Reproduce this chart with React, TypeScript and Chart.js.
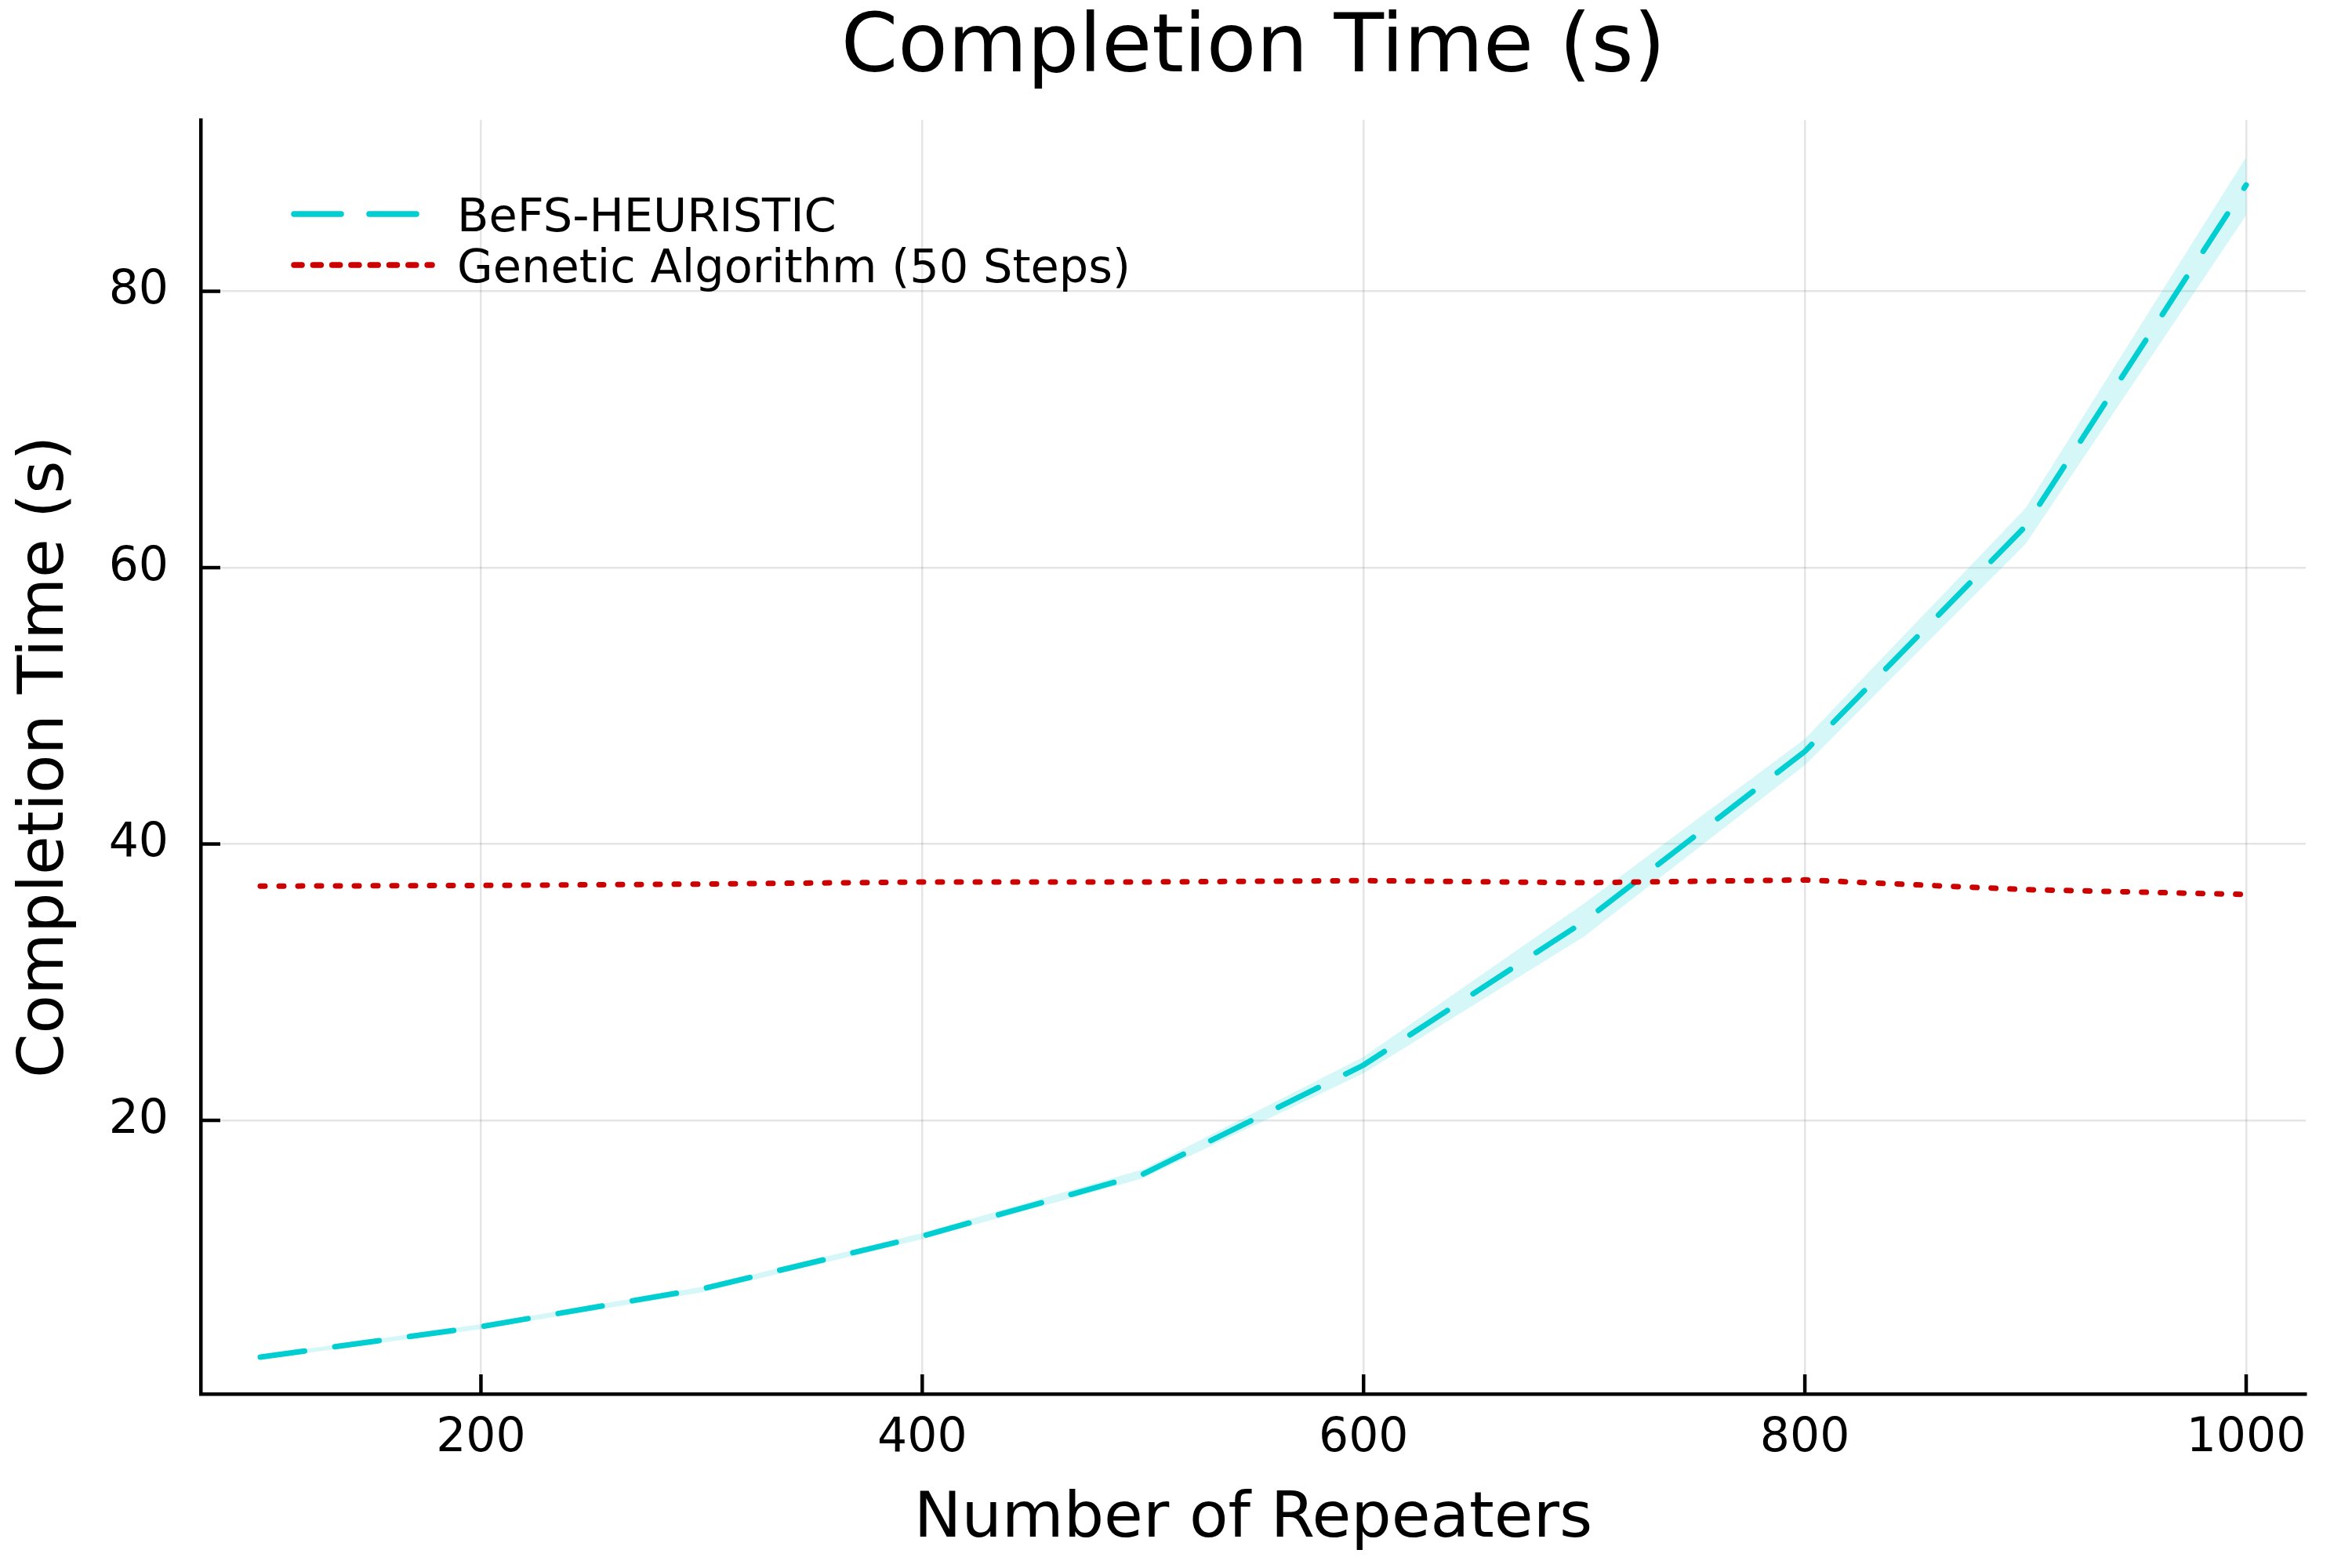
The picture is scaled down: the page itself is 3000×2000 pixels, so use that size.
import React, { useEffect, useRef } from "react";
import { Chart, registerables } from "chart.js";

Chart.register(...registerables);

const repeaters = [100, 200, 300, 400, 500, 600, 700, 800, 900, 1000];
const befsMean = [2.87, 5.07, 7.8, 11.62, 16.1, 24.0, 34.4, 46.7, 63.0, 87.7];
const befsLower = [2.7, 4.9, 7.55, 11.4, 15.8, 23.4, 33.3, 45.7, 61.7, 85.5];
const befsUpper = [3.0, 5.25, 7.95, 11.85, 16.45, 24.6, 35.7, 47.6, 64.3, 89.7];
const gaMean = [36.95, 37.0, 37.1, 37.25, 37.25, 37.35, 37.2, 37.4, 36.7, 36.35];

const xTicks = [200, 400, 600, 800, 1000];
const yTicks = [20, 40, 60, 80];

const seriesNames = ["BeFS-HEURISTIC", "Genetic Algorithm (50 Steps)"];
const titleText = "Completion Time (s)";
const xTitle = "Number of Repeaters";
const yTitle = "Completion Time (s)";

const FONT = '"DejaVu Sans", sans-serif';
const CYAN = "#00CED1";
const RED = "#CD0000";

const toPts = (ys: number[]) => repeaters.map((x, i) => ({ x, y: ys[i] }));

const inwardTicks = {
  id: "inwardTicks",
  afterDatasetsDraw(chart: any) {
    const { ctx, chartArea, scales } = chart;
    ctx.save();
    ctx.strokeStyle = "#000";
    ctx.lineWidth = 4.5;
    ctx.setLineDash([]);
    for (const v of xTicks) {
      const px = scales.x.getPixelForValue(v);
      ctx.beginPath();
      ctx.moveTo(px, chartArea.bottom);
      ctx.lineTo(px, chartArea.bottom - 25);
      ctx.stroke();
    }
    for (const v of yTicks) {
      const py = scales.y.getPixelForValue(v);
      ctx.beginPath();
      ctx.moveTo(chartArea.left, py);
      ctx.lineTo(chartArea.left + 25, py);
      ctx.stroke();
    }
    ctx.restore();
  },
};

const titles = {
  id: "titles",
  afterDraw(chart: any) {
    const { ctx, chartArea, height } = chart;
    const cx = (chartArea.left + chartArea.right) / 2;
    const cy = (chartArea.top + chartArea.bottom) / 2;
    ctx.save();
    ctx.fillStyle = "#000";
    ctx.textAlign = "center";
    ctx.textBaseline = "alphabetic";
    ctx.font = `104px ${FONT}`;
    ctx.fillText(titleText, cx, chartArea.top - 62);
    ctx.font = `81px ${FONT}`;
    ctx.fillText(xTitle, cx, height - 40);
    ctx.translate(chartArea.left - 176, cy);
    ctx.rotate(-Math.PI / 2);
    ctx.fillText(yTitle, 0, 0);
    ctx.restore();
  },
};

const customLegend = {
  id: "customLegend",
  afterDraw(chart: any) {
    const { ctx, chartArea } = chart;
    const x0 = chartArea.left + 119;
    const textX = chartArea.left + 327;
    const rows = [
      { y: chartArea.top + 120, color: CYAN, dash: [60, 36], len: 157, label: seriesNames[0] },
      { y: chartArea.top + 185, color: RED, dash: [10, 14.3], len: 176, label: seriesNames[1] },
    ];
    ctx.save();
    for (const r of rows) {
      ctx.strokeStyle = r.color;
      ctx.lineWidth = 7.5;
      ctx.lineCap = "round";
      ctx.setLineDash(r.dash);
      ctx.beginPath();
      ctx.moveTo(x0, r.y);
      ctx.lineTo(x0 + r.len, r.y);
      ctx.stroke();
      ctx.setLineDash([]);
      ctx.fillStyle = "#000";
      ctx.font = `59px ${FONT}`;
      ctx.textBaseline = "alphabetic";
      ctx.textAlign = "left";
      ctx.fillText(r.label, textX, r.y + 22);
    }
    ctx.restore();
  },
};

export default function App() {
  const ref = useRef<HTMLCanvasElement | null>(null);
  useEffect(() => {
    if (!ref.current) return;
    const chart = new Chart(ref.current, {
      type: "line",
      data: {
        datasets: [
          {
            label: seriesNames[1],
            data: toPts(gaMean),
            borderColor: RED,
            borderWidth: 7,
            borderDash: [6, 18],
            borderCapStyle: "round",
            pointRadius: 0,
            fill: false,
          },
          {
            label: seriesNames[0],
            data: toPts(befsMean),
            borderColor: CYAN,
            borderWidth: 7,
            borderDash: [57, 39],
            borderCapStyle: "round",
            pointRadius: 0,
            fill: false,
          },
          {
            label: "lower",
            data: toPts(befsLower),
            borderWidth: 0,
            borderColor: "rgba(0,0,0,0)",
            pointRadius: 0,
            fill: false,
          },
          {
            label: "upper",
            data: toPts(befsUpper),
            borderWidth: 0,
            borderColor: "rgba(0,0,0,0)",
            backgroundColor: "rgba(0,206,209,0.16)",
            pointRadius: 0,
            fill: 2,
          },
        ],
      } as any,
      options: {
        animation: false,
        responsive: false,
        devicePixelRatio: 1,
        layout: { padding: { left: 0, right: 59, top: 153, bottom: 0 } },
        plugins: {
          legend: { display: false },
          tooltip: { enabled: false },
          filler: { drawTime: "beforeDatasetsDraw" },
          title: { display: false },
        } as any,
        scales: {
          x: {
            type: "linear",
            min: 73,
            max: 1027,
            afterBuildTicks: (s: any) => {
              s.ticks = xTicks.map((v) => ({ value: v }));
            },
            afterFit: (s: any) => {
              s.height = 222;
            },
            ticks: {
              color: "#000",
              font: { family: FONT, size: 60 },
              padding: 21,
              maxRotation: 0,
              autoSkip: false,
              callback: (v: any) => String(v),
            },
            grid: { color: "rgba(0,0,0,0.1)", lineWidth: 2.5, drawTicks: false },
            border: { display: true, color: "#000", width: 4.5 },
          },
          y: {
            type: "linear",
            min: 0.2,
            max: 92.4,
            afterBuildTicks: (s: any) => {
              s.ticks = yTicks.map((v) => ({ value: v }));
            },
            afterFit: (s: any) => {
              s.width = 256;
            },
            ticks: {
              color: "#000",
              font: { family: FONT, size: 60 },
              padding: 41,
              autoSkip: false,
              callback: (v: any) => String(v),
            },
            grid: { color: "rgba(0,0,0,0.1)", lineWidth: 2.5, drawTicks: false },
            border: { display: true, color: "#000", width: 4.5 },
          },
        },
      } as any,
      plugins: [inwardTicks, customLegend, titles],
    });
    return () => chart.destroy();
  }, []);

  return (
    <div style={{ position: "fixed", left: 0, top: 0, width: 3000, height: 2000, background: "#fff" }}>
      <canvas ref={ref} width={3000} height={2000} style={{ width: 3000, height: 2000 }} />
    </div>
  );
}
